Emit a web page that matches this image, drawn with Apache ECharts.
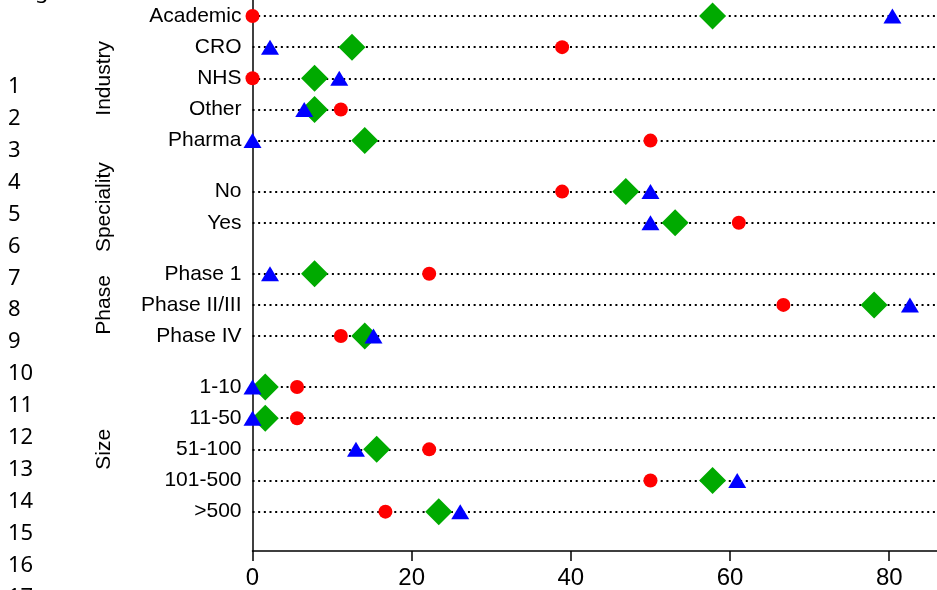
<!DOCTYPE html>
<html><head><meta charset="utf-8">
<script src="https://cdn.jsdelivr.net/npm/echarts@6/dist/echarts.min.js"></script>
<style>html,body{margin:0;padding:0;background:#fff}#c{width:937px;height:590px}</style>
</head><body><div id="c"></div>
<script>
// ---- data ----
const groupNames = ['Industry', 'Speciality', 'Phase', 'Size'];
const industryLabels = ['Academic', 'CRO', 'NHS', 'Other', 'Pharma'];
const specialityLabels = ['No', 'Yes'];
const phaseLabels = ['Phase 1', 'Phase II/III', 'Phase IV'];
const sizeLabels = ['1-10', '11-50', '51-100', '101-500', '>500'];
// percentages, rows in the order of the label arrays above
const redValues   = [0, 38.9, 0, 11.1, 50,   38.9, 61.1,   22.2, 66.7, 11.1,   5.6, 5.6, 22.2, 50, 16.7];
const greenValues = [57.8, 12.5, 7.8, 7.8, 14.1,   46.9, 53.1,   7.8, 78.1, 14.1,   1.6, 1.6, 15.6, 57.8, 23.4];
const blueValues  = [80.4, 2.2, 10.9, 6.5, 0,   50, 50,   2.2, 82.6, 15.2,   0, 0, 13.0, 60.9, 26.1];
const xTickValues = [0, 20, 40, 60, 80];
const lineNumbers = ['1','2','3','4','5','6','7','8','9','10','11','12','13','14','15','16','17'];

// ---- layout ----
const LEFT = 252.5, RIGHT = -1, ROW = 31.15, GAP = 51, FIRST = 16, XMAX = 86, AXIS_Y = 552.7;
const FONT = 'Liberation Sans';
const groups = [industryLabels, specialityLabels, phaseLabels, sizeLabels];
const grids = [], xAxes = [], yAxes = [], series = [];
let y = FIRST, offset = 0;
groups.forEach((labels, g) => {
  const h = (labels.length - 1) * ROW;
  grids.push({ left: LEFT, right: RIGHT, top: y, height: h });
  xAxes.push({ type: 'value', gridIndex: g, min: 0, max: XMAX, show: false });
  yAxes.push({
    type: 'category', gridIndex: g, data: labels, inverse: true, boundaryGap: false,
    name: groupNames[g], nameLocation: 'middle', nameRotate: 90, nameGap: 138,
    nameTextStyle: { fontFamily: FONT, fontSize: 21, color: '#000' },
    axisLine: { show: false }, axisTick: { show: false },
    axisLabel: { interval: 0, margin: 11, fontFamily: FONT, fontSize: 21, color: '#000' },
    splitLine: { show: true, interval: 0, lineStyle: { color: '#000', width: 2, type: [2, 3.67] } }
  });
  const off = offset;
  const mk = (vals, name, symbol, size, color, z) => ({
    type: 'scatter', name, xAxisIndex: g, yAxisIndex: g, symbol, symbolSize: size,
    clip: false, z, itemStyle: { color, opacity: 1 },
    data: labels.map((l, i) => [vals[off + i], i])
  });
  series.push(mk(greenValues, 'Green', 'diamond', 27, '#00aa00', 2));
  series.push(mk(redValues, 'Red', 'circle', 14, '#ff0000', 3));
  series.push(mk(blueValues, 'Blue', 'triangle', [18, 15], '#0000ff', 4));
  offset += labels.length;
  y += h + GAP;
});
// main axes grid
grids.push({ left: LEFT, right: RIGHT, top: 0, bottom: 590 - AXIS_Y });
xAxes.push({
  type: 'value', gridIndex: 4, min: 0, max: XMAX, interval: 20,
  axisLine: { show: true, onZero: false, lineStyle: { color: '#000', width: 1.5 } },
  axisTick: { show: true, length: 10, lineStyle: { color: '#000', width: 1.5 } },
  axisLabel: { margin: 15, fontFamily: FONT, fontSize: 24, color: '#000', showMaxLabel: false,
    formatter: v => xTickValues.includes(v) ? String(v) : '' },
  splitLine: { show: false }
});
yAxes.push({
  type: 'value', gridIndex: 4, min: 0, max: 1,
  axisLine: { show: true, onZero: false, lineStyle: { color: '#000', width: 1.5 } },
  axisTick: { show: false }, axisLabel: { show: false }, splitLine: { show: false }
});

const graphics = lineNumbers.map((t, i) => ({
  type: 'text', x: 8, y: 86.5 + i * 31.96,
  style: { text: t, font: '22px "Noto Sans"', fill: '#000', align: 'left', verticalAlign: 'middle' }
}));
graphics.push({ type: 'text', x: 35, y: -8,
  style: { text: 'g', font: '22px "Noto Sans"', fill: '#000', align: 'left', verticalAlign: 'middle' } });

const chart = echarts.init(document.getElementById('c'), null, { renderer: 'canvas' });
chart.setOption({
  animation: false,
  backgroundColor: '#fff',
  grid: grids, xAxis: xAxes, yAxis: yAxes, series,
  graphic: graphics
});
</script></body></html>
